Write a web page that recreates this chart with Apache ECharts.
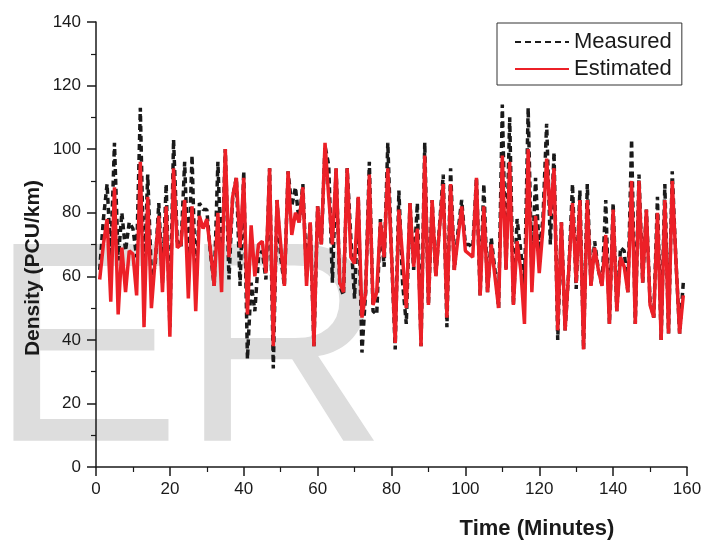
<!DOCTYPE html>
<html>
<head>
<meta charset="utf-8">
<script src="https://cdn.jsdelivr.net/npm/echarts@6/dist/echarts.min.js"></script>
<style>
html,body{margin:0;padding:0;background:#fff;}
#c{width:707px;height:541px;}
</style>
</head>
<body>
<div id="c"></div>
<script>
// Time (minutes) runs 1..N, one sample per minute
const estimated = [59,70,78,52,88,48,69,55,68,67,54,96,44,85,50,65,79,55,82,41,
94,69,70,84,53,82,49,79,75,78,68,57,80,55,100,66,85,91,69,91,
48,76,60,70,71,61,94,38,84,70,57,93,73,80,77,88,57,77,38,82,
70,102,85,70,94,58,55,94,66,64,85,47,55,92,51,55,77,66,94,67,
39,81,66,50,83,63,75,38,98,51,84,60,75,89,47,89,62,72,82,68,
67,66,91,54,82,55,70,60,50,98,62,96,51,71,62,45,100,55,79,61,
75,97,79,94,43,77,43,62,83,58,84,37,84,57,69,62,57,73,45,81,
49,66,63,55,90,45,90,58,81,51,47,80,40,84,42,90,65,42,54];
const measured = [62,78,89,66,102,65,80,68,77,75,66,113,58,92,60,63,83,58,89,44,
103,71,69,96,62,98,55,83,81,81,67,57,96,62,100,59,85,91,57,93,
34,58,49,66,68,59,94,31,84,66,57,93,82,88,77,89,60,77,38,82,
70,101,95,58,94,57,54,94,72,53,85,36,55,96,49,48,78,63,102,67,
37,87,58,45,83,62,83,38,102,51,84,60,76,92,44,94,62,74,84,70,
70,69,91,54,89,55,72,62,50,114,62,110,51,78,68,56,113,60,91,68,
78,108,70,99,40,77,43,62,89,56,87,37,89,57,71,62,57,84,45,83,
49,69,68,55,103,45,92,58,81,52,47,85,40,89,42,93,65,42,58];
const seriesNames = ['Measured', 'Estimated'];
const xName = 'Time (Minutes)';
const yName = 'Density (PCU/km)';
const watermark = 'ER';

const FONT = '"Liberation Sans", Arial, Helvetica, sans-serif';
const INK = '#1a1a1a';

const chart = echarts.init(document.getElementById('c'), null, {renderer: 'canvas'});

function axisCommon(min, max, interval, margin) {
  return {
    type: 'value', min: min, max: max, interval: interval,
    axisLine: {show: true, onZero: false, lineStyle: {color: INK, width: 1.5}},
    axisTick: {show: true, inside: false, length: 9, lineStyle: {color: INK, width: 1.5}},
    minorTick: {show: true, splitNumber: 2, length: 5, lineStyle: {color: INK, width: 1.2}},
    splitLine: {show: false},
    minorSplitLine: {show: false},
    axisLabel: {fontSize: 17, color: INK, margin: margin, fontFamily: FONT}
  };
}

chart.setOption({
  animation: false,
  backgroundColor: '#ffffff',
  grid: {left: 96, right: 20, top: 22, bottom: 74, containLabel: false},
  xAxis: axisCommon(0, 160, 20, 14),
  yAxis: axisCommon(0, 140, 20, 15),
  legend: {
    orient: 'vertical', left: 497, top: 23,
    padding: [8, 10, 5, 17], itemGap: 5,
    itemWidth: 54, itemHeight: 14,
    borderColor: '#333', borderWidth: 1,
    backgroundColor: '#fff',
    itemStyle: {opacity: 0},
    textStyle: {fontSize: 22, color: INK, fontFamily: FONT},
    data: seriesNames
  },
  graphic: [
    {type: 'text', x: -10, y: 362, z: -10, silent: true,
     style: {text: watermark, fontSize: 286, fontFamily: FONT, fill: '#dddddd',
             align: 'left', verticalAlign: 'middle'}},
    {type: 'text', x: 33, y: 268, rotation: Math.PI / 2, z: 10,
     style: {text: yName, fontSize: 21, fontWeight: 'bold', fontFamily: FONT, fill: INK,
             align: 'center', verticalAlign: 'middle'}},
    {type: 'text', x: 537, y: 529, z: 10,
     style: {text: xName, fontSize: 22, fontWeight: 'bold', fontFamily: FONT, fill: INK,
             align: 'center', verticalAlign: 'middle'}}
  ],
  series: [
    {name: seriesNames[0], type: 'line', symbol: 'none', showSymbol: false,
     data: measured.map((v, i) => [i + 1, v]),
     lineStyle: {color: INK, width: 3.5, type: [6, 4]},
     itemStyle: {color: INK}, z: 2},
    {name: seriesNames[1], type: 'line', symbol: 'none', showSymbol: false,
     data: estimated.map((v, i) => [i + 1, v]),
     lineStyle: {color: '#ec2027', width: 3.5, type: 'solid'},
     itemStyle: {color: '#ec2027'}, z: 3}
  ]
});
</script>
</body>
</html>
